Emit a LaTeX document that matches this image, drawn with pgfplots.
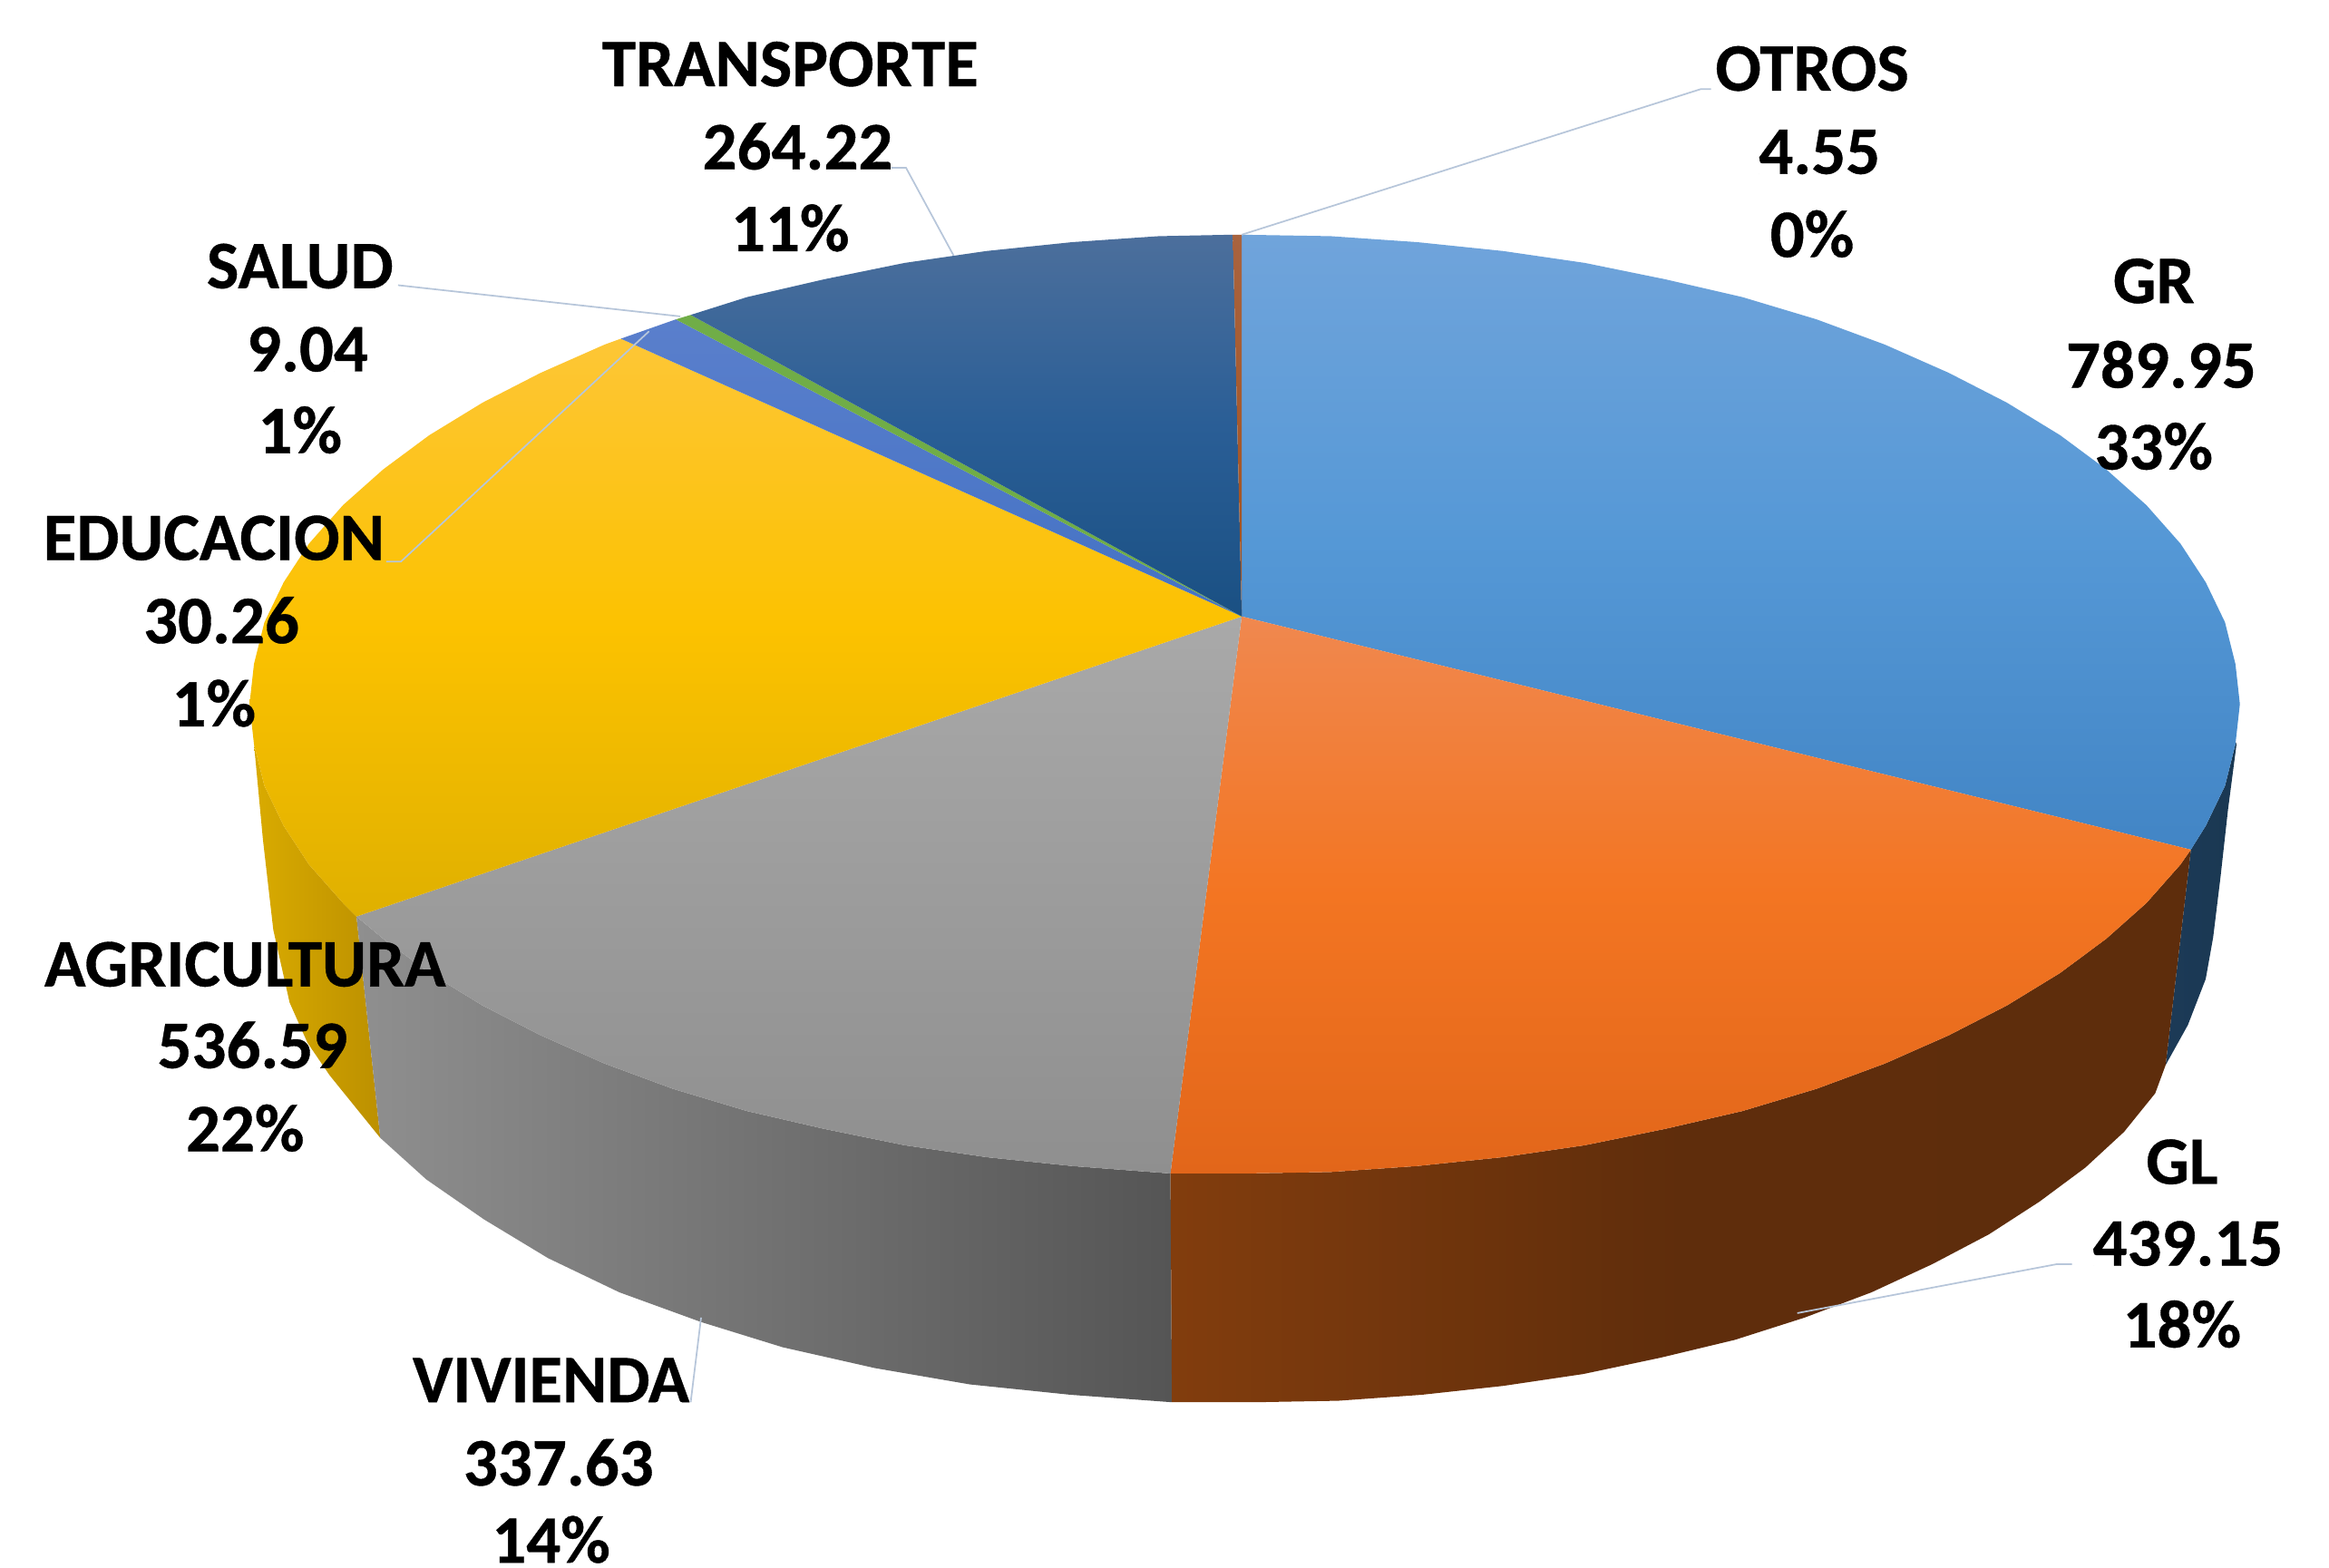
\documentclass[border=0pt]{standalone}
\usepackage{pgfplots}
\pgfplotsset{compat=1.18}
\usepackage{fontspec}
\setmainfont{Carlito}[BoldFeatures={FakeBold=0.5}]
\definecolor{leader}{HTML}{B7C6DA}
\newcommand{\dc}[1]{\definecolor{c#1}{HTML}{#1}}
\dc{1C3A57}\dc{1A3852}\dc{D9AB00}\dc{BC9000}\dc{8F8F8F}\dc{555555}\dc{823D0D}\dc{5F2D0C}\dc{5E2D0C}
\dc{70A4DB}\dc{5598D6}\dc{4285C5}\dc{F0884F}\dc{F37522}\dc{E2661A}\dc{A9A9A9}\dc{FDC636}\dc{FCC200}\dc{DFB000}
\dc{5A7FCC}\dc{4472C4}\dc{70AD47}\dc{4C6F9C}\dc{2A5E96}\dc{1A5083}\dc{A8633F}\dc{A5501A}
\newcommand{\lab}[3]{\node[anchor=base,inner sep=0pt,text=black] at (axis cs:#1,#2) {\fontsize{21.3}{25}\selectfont\bfseries #3};}
\begin{document}
\begin{tikzpicture}
\clip (0,0) rectangle (25.68cm,17.28cm);
\begin{axis}[
  scale only axis, width=25.68cm, height=17.28cm,
  xmin=0, xmax=1568, ymin=0, ymax=1055, y dir=reverse,
  hide axis, clip=false, no markers]
% side faces
\addplot[draw=none,left color=c1C3A57,right color=c1A3852] coordinates {(1505,501)(1498,529)(1485,556)(1475,572)(1458,717)(1473,690)(1485,659)(1490,631)(1495,590)(1500,545)(1506,499)} -- cycle;
\addplot[draw=none,left color=cD9AB00,right color=cBC9000] coordinates {(240,617)(231,608)(208,582)(191,556)(178,529)(171,501)(177,565)(184,626)(195,675)(207,702)(222,724)(256,766)} -- cycle;
\addplot[draw=none,left color=c8F8F8F,right color=c555555] coordinates {(788,790)(722,785)(664,779)(609,771)(555,760)(503,748)(453,733)(407,716)(364,697)(325,677)(289,655)(258,632)(240,617)(256,766)(287,794)(326,821)(369,847)(417,870)(472,890)(527,907)(589,921)(653,932)(721,939)(789,944)} -- cycle;
\addplot[draw=none,left color=c823D0D,right color=c5E2D0C,middle color=c5F2D0C] coordinates {(1475,572)(1468,582)(1445,608)(1418,632)(1387,655)(1351,677)(1312,697)(1269,716)(1223,733)(1173,748)(1121,760)(1067,771)(1012,779)(954,785)(896,789)(838,790)(788,790)(789,944)(845,944)(901,943)(957,939)(1012,933)(1066,925)(1118,914)(1168,902)(1215,887)(1260,870)(1301,851)(1339,831)(1373,809)(1404,786)(1430,762)(1451,736)(1458,717)} -- cycle;
% top faces
\addplot[draw=none,top color=c70A4DB,bottom color=c4285C5,middle color=c5598D6] coordinates {(836,415)(836,158)(896,159)(954,163)(1012,169)(1067,177)(1121,188)(1173,200)(1223,215)(1269,232)(1312,251)(1351,271)(1387,293)(1418,316)(1445,340)(1468,366)(1485,392)(1498,419)(1505,447)(1508,474)(1505,501)(1498,529)(1485,556)(1475,572)} -- cycle;
\addplot[draw=none,top color=cF0884F,bottom color=cE2661A,middle color=cF37522] coordinates {(836,415)(1475,572)(1468,582)(1445,608)(1418,632)(1387,655)(1351,677)(1312,697)(1269,716)(1223,733)(1173,748)(1121,760)(1067,771)(1012,779)(954,785)(896,789)(838,790)(788,790)} -- cycle;
\addplot[draw=none,top color=cA9A9A9,bottom color=c8F8F8F] coordinates {(836,415)(788,790)(722,785)(664,779)(609,771)(555,760)(503,748)(453,733)(407,716)(364,697)(325,677)(289,655)(258,632)(240,617)} -- cycle;
\addplot[draw=none,top color=cFDC636,bottom color=cDFB000,middle color=cFCC200] coordinates {(836,415)(240,617)(231,608)(208,582)(191,556)(178,529)(171,501)(168,474)(171,447)(178,419)(191,392)(208,366)(231,340)(258,316)(289,293)(325,271)(364,251)(407,232)(418,228)} -- cycle;
\addplot[draw=none,top color=c5A7FCC,bottom color=c4472C4] coordinates {(836,415)(418,228)(455,215)} -- cycle;
\addplot[draw=none,fill=c70AD47] coordinates {(836,415)(455,215)(465,212)} -- cycle;
\addplot[draw=none,top color=c4C6F9C,bottom color=c1A5083,middle color=c2A5E96] coordinates {(836,415)(465,212)(503,200)(555,188)(609,177)(664,169)(722,163)(780,159)(830,158)} -- cycle;
\addplot[draw=none,top color=cA8633F,bottom color=cA5501A] coordinates {(836,415)(830,158)(836,158)} -- cycle;
% leader lines
\addplot[leader,line width=0.5pt] coordinates {(1152,60)(1145,60)(836,158)};
\addplot[leader,line width=0.5pt] coordinates {(600,113)(610,113)(642,172)};
\addplot[leader,line width=0.5pt] coordinates {(268,192)(458,213)};
\addplot[leader,line width=0.5pt] coordinates {(260,378)(270,378)(437,223)};
\addplot[leader,line width=0.5pt] coordinates {(465,944)(472,887)};
\addplot[leader,line width=0.5pt] coordinates {(1395,851)(1385,851)(1210,884)};
% labels
\lab{532}{58}{TRANSPORTE}\lab{537}{114}{264.22}\lab{532}{169}{11\%}
\lab{1220}{61}{OTROS}\lab{1225}{117}{4.55}\lab{1220}{173}{0\%}
\lab{1450}{204}{GR}\lab{1455}{261}{789.95}\lab{1450}{316}{33\%}
\lab{202}{194}{SALUD}\lab{207}{250}{9.04}\lab{202}{305}{1\%}
\lab{144}{377}{EDUCACION}\lab{149}{433}{30.26}\lab{144}{489}{1\%}
\lab{165}{664}{AGRICULTURA}\lab{170}{719}{536.59}\lab{165}{775}{22\%}
\lab{371}{944}{VIVIENDA}\lab{376}{1000}{337.63}\lab{371}{1052}{14\%}
\lab{1469}{797}{GL}\lab{1473}{852}{439.15}\lab{1469}{907}{18\%}
\end{axis}
\end{tikzpicture}
\end{document}
